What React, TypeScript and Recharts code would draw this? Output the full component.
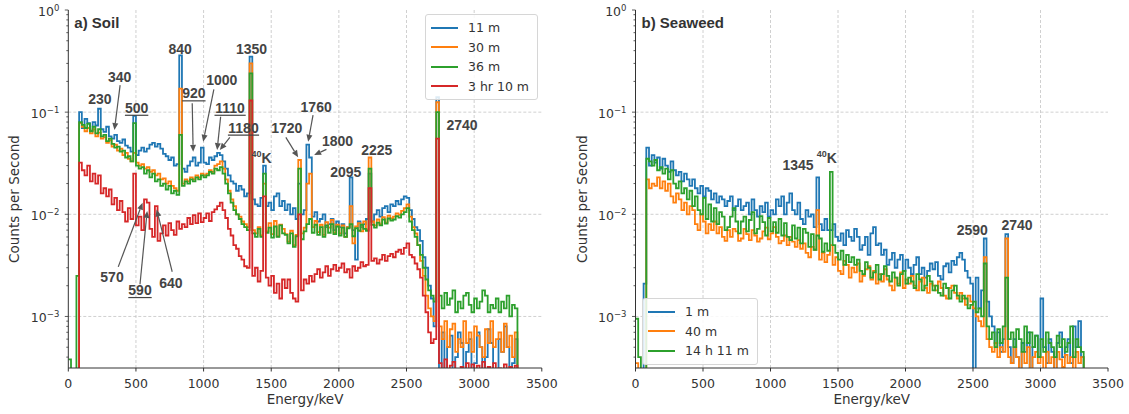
import {
  CartesianGrid,
  Line,
  LineChart,
  ReferenceDot,
  ReferenceLine,
  XAxis,
  YAxis,
} from "recharts";

// Bin start energies (keV), 20 keV bins.
const ENERGY_KEV = [
  0, 20, 40, 60, 80, 100, 120, 140, 160, 180,
  200, 220, 240, 260, 280, 300, 320, 340, 360, 380,
  400, 420, 440, 460, 480, 500, 520, 540, 560, 580,
  600, 620, 640, 660, 680, 700, 720, 740, 760, 780,
  800, 820, 840, 860, 880, 900, 920, 940, 960, 980,
  1000, 1020, 1040, 1060, 1080, 1100, 1120, 1140, 1160, 1180,
  1200, 1220, 1240, 1260, 1280, 1300, 1320, 1340, 1360, 1380,
  1400, 1420, 1440, 1460, 1480, 1500, 1520, 1540, 1560, 1580,
  1600, 1620, 1640, 1660, 1680, 1700, 1720, 1740, 1760, 1780,
  1800, 1820, 1840, 1860, 1880, 1900, 1920, 1940, 1960, 1980,
  2000, 2020, 2040, 2060, 2080, 2100, 2120, 2140, 2160, 2180,
  2200, 2220, 2240, 2260, 2280, 2300, 2320, 2340, 2360, 2380,
  2400, 2420, 2440, 2460, 2480, 2500, 2520, 2540, 2560, 2580,
  2600, 2620, 2640, 2660, 2680, 2700, 2720, 2740, 2760, 2780,
  2800, 2820, 2840, 2860, 2880, 2900, 2920, 2940, 2960, 2980,
  3000, 3020, 3040, 3060, 3080, 3100, 3120, 3140, 3160, 3180,
  3200, 3220, 3240, 3260, 3280, 3300, 3320,
];

// Count rates in milli-counts per second (x 10^-3 cps), one value per bin.
const SOIL_11M = [
  0.1, 0.1, 0.1, 0.1, 100, 70, 86, 78, 66, 80,
  74, 108, 68, 64, 72, 58, 55, 60, 52, 50,
  54, 47, 45, 41, 92, 38, 42, 45, 41, 44,
  48, 50, 46, 49, 44, 39, 37, 34, 36, 30,
  31, 360, 28, 26, 30, 33, 36, 30, 32, 45,
  32, 31, 36, 34, 37, 40, 38, 33, 28, 24,
  21, 20, 17, 19, 17.5, 15, 16, 350, 14, 12.5,
  12, 14.5, 30, 12, 13, 11, 15, 16, 12, 13.5,
  11, 12.5, 10, 11.5, 9, 20, 10, 11, 48, 36,
  9.5, 10.5, 8.5, 9, 10, 7.5, 8, 9, 7, 8.5,
  7.5, 8, 6.5, 7.5, 23, 7, 3.6, 8.5, 7.5, 8,
  9, 25, 8.5, 10, 11, 9.5, 11.5, 12, 10.5, 12.5,
  12, 13.5, 12.5, 14, 15, 14.5, 11, 9, 7.5, 7,
  5.5, 3.8, 3, 2, 1.5, 0.8, 140, 0.3, 0.7, 0.2,
  0.5, 0.65, 0.25, 0.4, 0.7, 0.55, 0.2, 0.45, 0.6, 0.3,
  0.35, 0.7, 0.5, 0.2, 0.4, 0.75, 0.55, 0.3, 0.25, 0.6,
  0.45, 0.8, 0.5, 0.3, 0.35, 0.6, 0.1,
];

const SOIL_30M = [
  0.1, 0.1, 0.1, 0.1, 78, 72, 65, 70, 62, 68,
  58, 63, 55, 57, 50, 53, 46, 48, 42, 44,
  38, 40, 35, 33, 40, 32, 30, 31, 28, 29,
  26, 27, 24, 25, 22, 22.5, 20, 21, 19, 18,
  17, 170, 20, 22, 21, 23, 22, 24, 23, 25,
  24, 25, 27, 26, 30, 31, 33, 28, 22, 17,
  14, 12, 10, 9.5, 8.5, 8, 7.5, 300, 7, 6.5,
  7.5, 6.2, 20, 6.8, 8.2, 6.4, 8.6, 6.1, 7.9, 7.2,
  6.4, 5.4, 6.9, 5.0, 6.3, 34, 6.5, 7.4, 20, 25,
  7.5, 8.6, 6.7, 7.9, 6.3, 8.4, 7.4, 8.8, 6.6, 7.9,
  6.5, 7.8, 6.0, 7.5, 12, 5.2, 7.6, 8.2, 6.8, 8.5,
  7.1, 36, 8.5, 7.8, 8.9, 8.0, 9.4, 8.3, 9.7, 9.1,
  9.5, 10.2, 9.9, 10.8, 11.5, 12.5, 9.5, 7.5, 6.5, 5,
  3.5, 2.5, 1.6, 1.2, 1.0, 0.9, 125, 0.8, 0.6, 0.9,
  0.5, 0.75, 0.85, 0.45, 0.6, 0.5, 0.9, 0.55, 0.7, 0.45,
  0.8, 0.65, 0.5, 0.4, 0.75, 0.55, 0.9, 0.5, 0.6, 0.7,
  0.45, 0.85, 0.5, 0.65, 0.4, 0.7, 0.1,
];

const SOIL_36M = [
  0.38, 0.1, 0.1, 2.5, 80, 75, 70, 77, 65, 72,
  62, 68, 58, 60, 52, 55, 49, 45, 46, 41,
  42, 36, 37, 33, 78, 30, 28, 29, 25, 27,
  23, 25, 21, 22, 19, 20, 17.5, 19, 16, 17,
  15.5, 60, 19, 21, 20, 22, 21, 23, 22, 24,
  23, 24, 26, 25, 28, 27, 29, 25, 20, 16,
  13, 11, 10, 9, 8, 7.5, 7, 240, 6.5, 6,
  7.2, 6.0, 25, 6.6, 7.4, 5.9, 7.6, 6.0, 7.8, 6.5,
  6.3, 5.2, 6.5, 4.8, 6.1, 28, 5.7, 6.8, 8, 9,
  6.6, 7.9, 6.3, 7.5, 6.0, 7.8, 6.6, 8.0, 6.4, 7.6,
  6.2, 7.4, 6.0, 7.3, 8, 6.1, 7.3, 6.9, 7.9, 7.2,
  6.9, 28, 7.9, 7.4, 8.3, 7.8, 8.9, 8.1, 9.1, 8.7,
  8.9, 9.6, 9.3, 10, 10.5, 11.5, 8.5, 7, 6, 5,
  4, 3, 2.3, 1.8, 1.6, 1.4, 100, 1.6, 1.2, 1.7,
  1.3, 1.5, 1.8, 1.1, 1.4, 1.2, 1.6, 1.7, 1.3, 1.1,
  1.5, 1.2, 1.4, 1.8, 1.6, 1.1, 1.3, 1.2, 1.5, 1.1,
  1.4, 1.2, 1.6, 1.0, 1.3, 1.2, 0.1,
];

const SOIL_3H10M = [
  0.1, 0.1, 0.1, 0.1, 32, 27, 24, 30, 21, 25,
  20, 24, 16, 18, 15, 17.5, 12.5, 14.5, 11, 13.5,
  10.5, 8.5, 11.5, 9, 25, 7.8, 9.5, 7, 14, 13,
  7.2, 6, 12, 5.5, 6.5, 7.8, 6.2, 8.2, 7, 6.3,
  8.5, 7.2, 8, 7.5, 9.2, 8, 9.8, 8.2, 10.2, 8.4,
  9.2, 10.2, 8.6, 10.5, 11.2, 12, 13, 11, 9.2, 7.2,
  6.2, 5, 4.6, 3.9, 3.6, 3.1, 3.0, 130, 2.5, 3.0,
  2.2, 2.8, 15, 2.4, 2.0, 2.5, 1.7, 2.1, 1.5, 2.3,
  1.9, 2.3, 1.7, 1.5, 1.4, 10, 1.8, 2.3, 2.1, 2.5,
  2.2, 2.6, 2.9, 2.4, 2.7, 3.1, 2.5, 2.9, 3.2, 2.8,
  3.0, 3.3, 2.7, 2.9, 2.4, 3.1, 2.8, 3.0, 3.4, 3.1,
  3.2, 18, 3.5, 3.7, 3.3, 3.6, 4.0, 3.5, 3.9, 4.1,
  3.8, 4.3, 4.5, 4.1, 4.7, 5.2, 4.0, 3.8, 3.3, 2.9,
  2.4, 1.6, 1.1, 0.7, 0.55, 0.6, 55, 0.35, 0.3, 0.38,
  0.3, 0.33, 0.36, 0.28, 0.3, 0.32, 0.27, 0.35, 0.3, 0.34,
  0.29, 0.33, 0.3, 0.36, 0.28, 0.32, 0.3, 0.35, 0.27, 0.31,
  0.3, 0.34, 0.29, 0.32, 0.3, 0.33, 0.1,
];

const SEA_1M = [
  0.1, 0.1, 0.1, 2.1, 45, 30, 38, 32, 36, 28,
  35, 30, 26, 33, 27, 24, 26, 21, 25, 22,
  19, 22, 18, 16, 19, 15, 18, 17, 14, 16,
  13, 15, 14, 12, 13.5, 15, 11, 12, 14, 11,
  12, 13, 10, 14, 11, 9.5, 12, 10.5, 13, 9.5,
  11, 10, 14, 12, 15, 10, 13, 16, 11, 10,
  13, 9, 8, 11, 9.5, 10, 7.5, 23, 8, 7,
  9, 7, 7, 8, 6, 5.5, 6.5, 5, 7, 6,
  5.5, 7.2, 6, 4.5, 5, 6, 4, 6.5, 7.5, 5,
  5.2, 4, 4.5, 3.2, 3.6, 4.2, 3, 3.6, 4, 2.8,
  3.6, 3, 2.6, 3.2, 3.8, 2.6, 3, 2.4, 2.8, 3.3,
  2.9, 3.4, 2.5, 2.3, 3.1, 3.3, 2.7, 3.5, 3.2, 3.8,
  4.2, 3.6, 2.8, 2.4, 2.1, 0.2, 2.4, 1.2, 1.8, 5.8,
  1.4, 1.0, 0.8, 0.55, 0.7, 0.45, 0.6, 6.4, 0.5, 0.35,
  0.6, 0.4, 0.3, 0.55, 0.45, 0.7, 0.2, 0.5, 0.65, 0.4,
  1.5, 0.5, 0.35, 0.6, 0.45, 0.3, 0.55, 0.7, 0.4, 0.5,
  0.6, 0.35, 0.8, 0.5, 0.9, 0.4, 0.1,
];

const SEA_40M = [
  0.35, 0.1, 0.1, 0.1, 22, 18, 20, 19, 23, 18,
  21, 17, 20, 15, 13, 16, 14, 11, 13, 10,
  12, 11, 8, 7, 10, 8.5, 6.5, 8, 7, 8.5,
  6.5, 7.5, 6, 5.5, 7, 6, 7.2, 6.8, 5.5, 5.8,
  7.2, 6.4, 5.6, 7, 6.2, 5.4, 5.8, 6.8, 7.4, 5.7,
  6.5, 7.5, 6, 5.2, 5.5, 6.2, 5, 6, 5.4, 4.8,
  5.6, 4.6, 5.2, 4.2, 3.8, 4.8, 4.5, 11, 3.6, 4.2,
  3.4, 4, 5, 3.2, 3.8, 2.8, 2.6, 3.5, 3.2, 2.4,
  3, 2.7, 3.3, 2.2, 2.5, 2.9, 3.1, 2.3, 2.8, 2.1,
  2.6, 2.2, 2.9, 2.3, 2.0, 1.8, 2.4, 2.1, 2.7, 1.9,
  2.3, 2.1, 2.5, 2.0, 1.8, 2.2, 2.4, 1.9, 1.7, 2.1,
  2.0, 1.8, 2.2, 1.9, 1.6, 1.5, 1.9, 2.0, 1.7, 1.5,
  1.7, 1.5, 1.3, 1.6, 1.4, 1.2, 1.0, 0.9, 0.8, 3.8,
  0.6, 0.5, 0.45, 0.55, 0.4, 0.5, 0.45, 5.8, 0.4, 0.35,
  0.5, 0.4, 0.3, 0.45, 0.35, 0.5, 0.3, 0.4, 0.45, 0.35,
  0.4, 0.3, 0.45, 0.35, 0.4, 0.3, 0.45, 0.38, 0.32, 0.42,
  0.35, 0.4, 0.3, 0.45, 0.35, 0.4, 0.1,
];

const SEA_14H11M = [
  0.95, 0.4, 0.1, 0.1, 35, 33, 30, 34, 27, 29,
  25, 28, 22, 27, 20, 18, 21, 16, 18, 14,
  17, 12, 15, 11, 10, 14.5, 9, 12.5, 8.5, 11.5,
  8, 10.5, 9.5, 7, 7.5, 9.5, 11.5, 8.5, 6.5, 8.5,
  9.5, 6.8, 8.8, 10.5, 6.5, 7.2, 9.6, 8.4, 6.2, 9.2,
  6.8, 8.4, 6.6, 9, 6.2, 8.2, 6, 5.6, 7.8, 5.8,
  7.4, 5.2, 7.2, 6.6, 4.8, 6.4, 4.5, 6.2, 5.8, 4.3,
  5.2, 4.4, 26, 5, 4.2, 3.6, 4.4, 3.2, 4, 3.4,
  3.8, 3.2, 3.6, 2.8, 2.6, 3.4, 3.0, 2.4, 2.7, 3.2,
  2.3, 2.6, 3.1, 2.5, 2.2, 2.7, 2.4, 2.0, 2.6, 2.8,
  2.1, 2.4, 2.2, 1.9, 2.6, 2.3, 1.8, 2.0, 2.5, 2.2,
  1.8, 2.0, 1.7, 1.6, 2.1, 1.9, 1.5, 1.8, 2.0, 1.6,
  1.4, 1.6, 1.5, 1.2, 1.3, 1.4, 1.1, 1.2, 1.0, 3.3,
  0.8, 0.6, 0.7, 0.5, 0.75, 0.55, 0.8, 2.4, 0.6, 0.7,
  0.5, 0.75, 0.6, 0.45, 0.8, 0.55, 0.7, 0.5, 0.65, 0.4,
  0.6, 0.45, 0.7, 0.55, 0.5, 0.4, 0.65, 0.5, 0.6, 0.45,
  0.55, 0.8, 0.4, 0.6, 0.5, 0.45, 0.1,
];

const X_TICKS = [0, 500, 1000, 1500, 2000, 2500, 3000, 3500];
const X_GRID = [500, 1000, 1500, 2000, 2500, 3000];
const Y_MAJOR = [0.001, 0.01, 0.1, 1];
const Y_GRID = [0.001, 0.01, 0.1];
const Y_TICKS = [
  0.0004, 0.0005, 0.0006, 0.0007, 0.0008, 0.0009, 0.001,
  0.002, 0.003, 0.004, 0.005, 0.006, 0.007, 0.008, 0.009, 0.01,
  0.02, 0.03, 0.04, 0.05, 0.06, 0.07, 0.08, 0.09, 0.1,
  0.2, 0.3, 0.4, 0.5, 0.6, 0.7, 0.8, 0.9, 1,
];
const Y_MIN = 0.000313;

const SOIL_SERIES = [
  { key: "s11", name: "11 m", color: "#1f77b4", values: SOIL_11M },
  { key: "s30", name: "30 m", color: "#ff7f0e", values: SOIL_30M },
  { key: "s36", name: "36 m", color: "#2ca02c", values: SOIL_36M },
  { key: "s310", name: "3 hr 10 m", color: "#d62728", values: SOIL_3H10M },
];

const SEA_SERIES = [
  { key: "w1", name: "1 m", color: "#1f77b4", values: SEA_1M },
  { key: "w40", name: "40 m", color: "#ff7f0e", values: SEA_40M },
  { key: "w1411", name: "14 h 11 m", color: "#2ca02c", values: SEA_14H11M },
];

// peak labels: e = energy (keV) of text anchor, v = cps at text baseline
const SOIL_LABELS = [
  { text: "230", e: 234, v: 0.119 },
  { text: "340", e: 380, v: 0.199 },
  { text: "500", e: 505, v: 0.0986, underline: true },
  { text: "840", e: 827, v: 0.371 },
  { text: "920", e: 928, v: 0.1365, underline: true },
  { text: "1000", e: 1135, v: 0.184 },
  { text: "1350", e: 1354, v: 0.371 },
  { text: "1110", e: 1196, v: 0.0986, underline: true },
  { text: "1180", e: 1295, v: 0.0629, underline: true },
  { text: "1720", e: 1615, v: 0.062 },
  { text: "1760", e: 1832, v: 0.1009 },
  { text: "1800", e: 1990, v: 0.0466 },
  { text: "2095", e: 2051, v: 0.0233 },
  { text: "2225", e: 2280, v: 0.038 },
  { text: "2740", e: 2910, v: 0.0668 },
  { text: "570", e: 323, v: 0.00218 },
  { text: "590", e: 530, v: 0.00162, underline: true },
  { text: "640", e: 758, v: 0.00192 },
  { text: "K", sup: "40", e: 1428, v: 0.0315 },
];

const SOIL_ARROWS = [
  { from: [383, 0.184], to: [341, 0.0668] },
  { from: [916, 0.122], to: [923, 0.0409] },
  { from: [1076, 0.167], to: [997, 0.0513] },
  { from: [1126, 0.0901], to: [1100, 0.0425] },
  { from: [1194, 0.0567], to: [1120, 0.0425] },
  { from: [1608, 0.0567], to: [1699, 0.0361] },
  { from: [1809, 0.0937], to: [1773, 0.0513] },
  { from: [1908, 0.0432], to: [1817, 0.038] },
  { from: [369, 0.00306], to: [549, 0.013] },
  { from: [530, 0.00207], to: [583, 0.0108] },
  { from: [768, 0.00274], to: [653, 0.01117] },
];

const SEA_LABELS = [
  { text: "1345", e: 1204, v: 0.0271 },
  { text: "K", sup: "40", e: 1416, v: 0.0319 },
  { text: "2590", e: 2495, v: 0.00625 },
  { text: "2740", e: 2826, v: 0.007 },
];

const TEXT = "#333";
const NOTE = "#444";
const NOTE_FONT = "'Liberation Sans', Arial, sans-serif";

function LogTick({ x, y, payload }: any) {
  const v = payload.value;
  const exp = Math.round(Math.log10(v));
  const major = Y_MAJOR.includes(v);
  return (
    <g>
      <line x1={x - (major ? 3.5 : 2)} x2={x} y1={y} y2={y} stroke={TEXT} strokeWidth={0.8} />
      {major && (
        <text x={x - 9} y={y + 6} textAnchor="end" fontSize={12.5} fill={TEXT}>
          10
          <tspan dy={-5.5} fontSize={8.5}>
            {exp === 0 ? "0" : "\u2212" + Math.abs(exp)}
          </tspan>
        </text>
      )}
    </g>
  );
}

function NoteText({ cx, cy, note }: any) {
  if (note.sup) {
    return (
      <g fontFamily={NOTE_FONT} fontWeight="bold" fill={NOTE}>
        <text x={cx} y={cy} fontSize={14}>{note.text}</text>
        <text x={cx} y={cy - 6} fontSize={9} textAnchor="end">{note.sup}</text>
      </g>
    );
  }
  const w = note.text.length * 7.8;
  return (
    <g>
      <text x={cx} y={cy} textAnchor="middle" fontFamily={NOTE_FONT} fontWeight="bold" fontSize={14} fill={NOTE}>
        {note.text}
      </text>
      {note.underline && (
        <line x1={cx - w / 2} x2={cx + w / 2} y1={cy + 2.5} y2={cy + 2.5} stroke={NOTE} strokeWidth={1.2} />
      )}
    </g>
  );
}

function Arrow({ x1, y1, x2, y2 }: any) {
  const dx = x2 - x1;
  const dy = y2 - y1;
  const len = Math.hypot(dx, dy) || 1;
  const ux = dx / len;
  const uy = dy / len;
  const bx = x2 - ux * 7;
  const by = y2 - uy * 7;
  return (
    <g>
      <line x1={x1} y1={y1} x2={bx} y2={by} stroke="#555" strokeWidth={1.2} />
      <polygon
        points={`${x2},${y2} ${bx - uy * 3},${by + ux * 3} ${bx + uy * 3},${by - ux * 3}`}
        fill="#555"
      />
    </g>
  );
}

function Legend({ series, left, top }: any) {
  return (
    <div
      style={{
        position: "absolute",
        left,
        top,
        padding: "3px 8px 3px 5px",
        background: "rgba(255,255,255,0.85)",
        border: "1px solid #d6d6d6",
        borderRadius: 3,
        fontSize: 12.5,
        color: TEXT,
      }}
    >
      {series.map((s: any) => (
        <div key={s.key} style={{ display: "flex", alignItems: "center", height: 19.5 }}>
          <span style={{ width: 27, height: 2, background: s.color, marginRight: 10 }} />
          <span>{s.name}</span>
        </div>
      ))}
    </div>
  );
}

function SpectrumPanel({ left, width, marginLeft, marginRight, series, labels, arrows, title, legendPos }: any) {
  const rows = ENERGY_KEV.map((e, i) => {
    const row: any = { e };
    series.forEach((s: any) => {
      row[s.key] = s.values[i] / 1000;
    });
    return row;
  });
  const plotLeft = marginLeft + 60;
  const plotRight = width - marginRight;
  return (
    <div style={{ position: "absolute", left, top: 0, width, height: 414 }}>
      <LineChart
        width={width}
        height={414}
        data={rows}
        margin={{ top: 10, right: marginRight, bottom: 0, left: marginLeft }}
      >
        <CartesianGrid
          verticalValues={X_GRID}
          horizontalValues={Y_GRID}
          stroke="#c4c4c4"
          strokeDasharray="3 2"
          strokeWidth={0.8}
        />
        <XAxis
          dataKey="e"
          type="number"
          domain={[0, 3500]}
          ticks={X_TICKS}
          interval={0}
          allowDataOverflow
          height={46}
          tickSize={3.5}
          tickMargin={8}
          stroke={TEXT}
          tick={{ fontSize: 12.5, fill: TEXT }}
        />
        <XAxis xAxisId="top" orientation="top" type="number" domain={[0, 3500]} height={0} tick={false} tickLine={false} stroke={TEXT} />
        <YAxis
          type="number"
          scale="log"
          domain={[Y_MIN, 1]}
          allowDataOverflow
          ticks={Y_TICKS}
          interval={0}
          width={60}
          tickSize={0}
          tickMargin={0}
          tickLine={false}
          stroke={TEXT}
          tick={<LogTick />}
        />
        <YAxis yAxisId="right" orientation="right" type="number" domain={[0, 1]} width={0} tick={false} tickLine={false} stroke={TEXT} />
        {series.map((s: any) => (
          <Line
            key={s.key}
            dataKey={s.key}
            name={s.name}
            type="stepAfter"
            stroke={s.color}
            strokeWidth={1.8}
            dot={false}
            activeDot={false}
            isAnimationActive={false}
          />
        ))}
        {arrows.map((a: any, i: number) => (
          <ReferenceLine
            key={"a" + i}
            segment={[
              { x: a.from[0], y: a.from[1] },
              { x: a.to[0], y: a.to[1] },
            ]}
            shape={(p: any) => <Arrow {...p} />}
          />
        ))}
        {labels.map((n: any, i: number) => (
          <ReferenceDot key={"n" + i} x={n.e} y={n.v} r={0} shape={(p: any) => <NoteText {...p} note={n} />} />
        ))}
      </LineChart>
      <div
        style={{
          position: "absolute",
          left: plotLeft + 6,
          top: 14,
          fontFamily: NOTE_FONT,
          fontWeight: "bold",
          fontSize: 15,
          color: TEXT,
        }}
      >
        {title}
      </div>
      <div
        style={{
          position: "absolute",
          left: plotLeft,
          width: plotRight - plotLeft,
          top: 391,
          textAlign: "center",
          fontSize: 13.5,
          color: TEXT,
        }}
      >
        Energy/keV
      </div>
      <div
        style={{
          position: "absolute",
          left: plotLeft - 54 - 100,
          top: 199 - 8,
          width: 200,
          height: 16,
          textAlign: "center",
          fontSize: 13.5,
          color: TEXT,
          transform: "rotate(-90deg)",
        }}
      >
        Counts per Second
      </div>
      <Legend series={series} left={legendPos[0]} top={legendPos[1]} />
    </div>
  );
}

export default function App() {
  return (
    <div
      style={{
        position: "absolute",
        left: 0,
        top: 0,
        width: 1129,
        height: 414,
        background: "#fff",
        fontFamily: "'DejaVu Sans', sans-serif",
      }}
    >
      <SpectrumPanel
        left={0}
        width={560}
        marginLeft={8.3}
        marginRight={18.2}
        series={SOIL_SERIES}
        labels={SOIL_LABELS}
        arrows={SOIL_ARROWS}
        title="a) Soil"
        legendPos={[425, 14]}
      />
      <SpectrumPanel
        left={560}
        width={569}
        marginLeft={15.5}
        marginRight={21}
        series={SEA_SERIES}
        labels={SEA_LABELS}
        arrows={[]}
        title="b) Seaweed"
        legendPos={[82, 298]}
      />
    </div>
  );
}
